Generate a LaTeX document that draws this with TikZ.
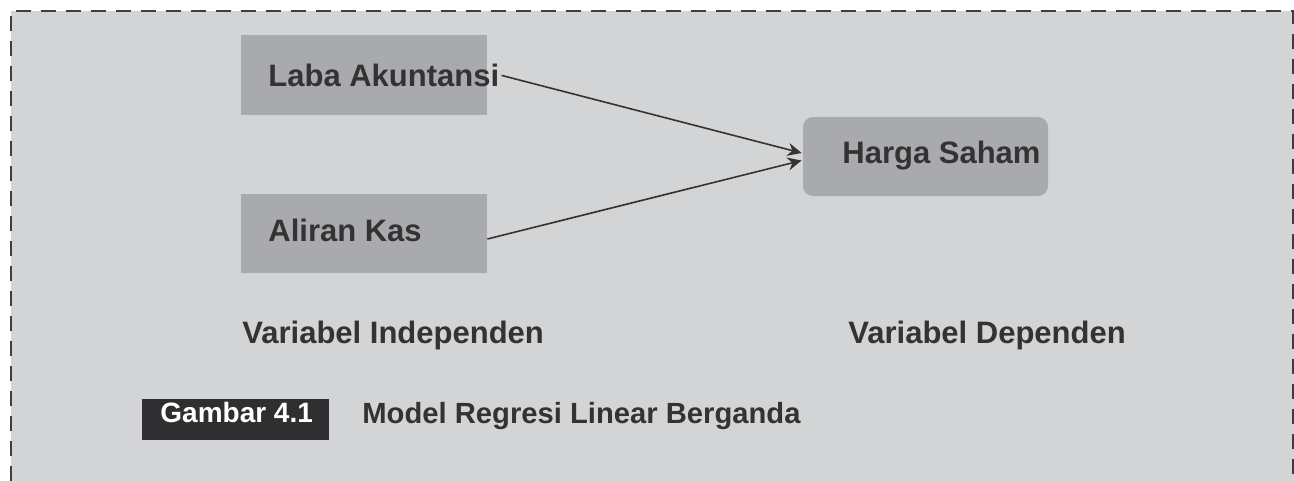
\documentclass[tikz,border=0pt]{standalone}
\usepackage{fontspec}
\setmainfont{Liberation Sans}
\usetikzlibrary{arrows.meta,calc}

\definecolor{panelgrey}{HTML}{D3D4D6}
\definecolor{boxgrey}{HTML}{A9AAAD}
\definecolor{inkgrey}{HTML}{333333}
\definecolor{frameink}{HTML}{3E3E40}
\definecolor{tagblack}{HTML}{2F2F31}

\tikzset{
  varbox/.style={fill=boxgrey, draw=none, inner sep=0pt},
  label text/.style={inner sep=0pt, anchor=base west, text=inkgrey,
    font=\bfseries\fontsize{15.5pt}{18pt}\selectfont},
  caption text/.style={inner sep=0pt, anchor=base west, text=inkgrey,
    font=\bfseries\fontsize{14.6pt}{17pt}\selectfont},
  link/.style={draw=inkgrey, line width=0.8pt,
    -{Stealth[length=7pt,width=6.5pt]}},
}

\begin{document}
\begin{tikzpicture}[x=0.5pt, y=-0.5pt]
  \useasboundingbox (0,0) rectangle (1294,481);

  % panel background and dashed frame (open at the bottom)
  \fill[panelgrey] (11,11) rectangle (1294,481);
  \draw[frameink, line width=1.1pt, dash pattern=on 7.5pt off 5pt]
    (11,481) -- (11,11) -- (1293,11) -- (1293,481);

  % independent variables
  \node[varbox, minimum width=123pt, minimum height=40pt] (laba) at (364,75) {};
  \node[label text] (labatext) at (268,87) {Laba Akuntansi};
  \node[varbox, minimum width=123pt, minimum height=39.5pt] (aliran) at (364,233.5) {};
  \node[label text] (alirantext) at (268,241) {Aliran Kas};

  % dependent variable
  \node[varbox, rounded corners=5pt, minimum width=122.5pt, minimum height=39.5pt]
    (harga) at (925.5,156.5) {};
  \node[label text] (hargatext) at (842,163) {Harga Saham};

  % connectors
  \coordinate (labaout) at ($(labatext.east)+(2,-0.5)$);
  \coordinate (hargain1) at ($(harga.west)+(-1,-3.5)$);
  \coordinate (hargain2) at ($(harga.west)+(-1,4)$);
  \draw[link] (labaout) -- (hargain1);
  \draw[link] ($(aliran.east)+(0,5.5)$) -- (hargain2);

  % column captions
  \node[label text] (indep) at (242,343) {Variabel Independen};
  \node[label text] (dep) at (848,343) {Variabel Dependen};

  % figure caption
  \node[fill=tagblack, inner sep=0pt, minimum width=93.5pt, minimum height=20.5pt]
    (tag) at (235.5,419.5) {};
  \node[inner sep=0pt, anchor=base west, text=white,
    font=\bfseries\fontsize{14pt}{16pt}\selectfont] (tagtext) at (160,422) {Gambar 4.1};
  \node[caption text] (caption) at (362,423) {Model Regresi Linear Berganda};
\end{tikzpicture}
\end{document}
